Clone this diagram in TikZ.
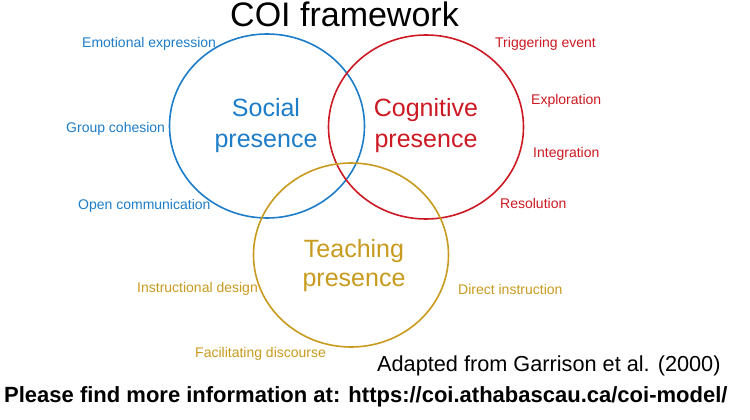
\documentclass[tikz,border=0pt]{standalone}
\usepackage{fontspec}
\setmainfont{Liberation Sans}
\usetikzlibrary{shapes.geometric}
\definecolor{coiblue}{RGB}{30,125,200}
\definecolor{coired}{RGB}{205,25,35}
\definecolor{coigold}{RGB}{200,155,30}
\begin{document}
\begin{tikzpicture}[x=1pt,y=-1pt,
  ring/.style={draw, ellipse, line width=1.6pt, minimum width=195pt, minimum height=184pt, inner sep=0pt},
  small/.style={font=\fontsize{14}{16}\selectfont, anchor=base west, inner sep=0pt},
  big/.style={font=\fontsize{25}{30}\selectfont, anchor=base, inner sep=0pt}]
\useasboundingbox[fill=white] (0,0) rectangle (750,420);
% circles
\node[ring, draw=coiblue] (social) at (267,126) {};
\node[ring, draw=coired] (cognitive) at (426,127) {};
\node[ring, draw=coigold] (teaching) at (351,255) {};
% title
\node[anchor=base west, inner sep=0pt, font=\fontsize{34}{38}\selectfont] (title) at (230,27) {COI framework};
% big labels
\node[big, text=coiblue] (socA) at (266,117) {Social};
\node[big, text=coiblue] (socB) at (266,147) {presence};
\node[big, text=coired] (cogA) at (426,117) {Cognitive};
\node[big, text=coired] (cogB) at (426,147) {presence};
\node[big, text=coigold] (teaA) at (354,257) {Teaching};
\node[big, text=coigold] (teaB) at (354,286) {presence};
% blue labels
\node[small, text=coiblue] (emo) at (82,48) {Emotional expression};
\node[small, text=coiblue] (grp) at (66,132) {Group cohesion};
\node[small, text=coiblue] (open) at (78,209) {Open communication};
% red labels
\node[small, text=coired] (trig) at (495,48) {Triggering event};
\node[small, text=coired] (expl) at (531,104) {Exploration};
\node[small, text=coired] (integ) at (533,157) {Integration};
\node[small, text=coired] (resol) at (500,208) {Resolution};
% gold labels
\node[small, text=coigold] (instr) at (137,292) {Instructional design};
\node[small, text=coigold] (direct) at (458,294) {Direct instruction};
\node[small, text=coigold] (facil) at (195,357) {Facilitating discourse};
% footer
\node[anchor=base west, inner sep=0pt, font=\fontsize{21.7}{24}\selectfont] (adapted) at (377,371) {Adapted from Garrison et al. (2000)};
\node[anchor=base west, inner sep=0pt, font=\bfseries\fontsize{22}{24}\selectfont] (more) at (4,402) {Please find more information at: https://coi.athabascau.ca/coi-model/};
\end{tikzpicture}
\end{document}
